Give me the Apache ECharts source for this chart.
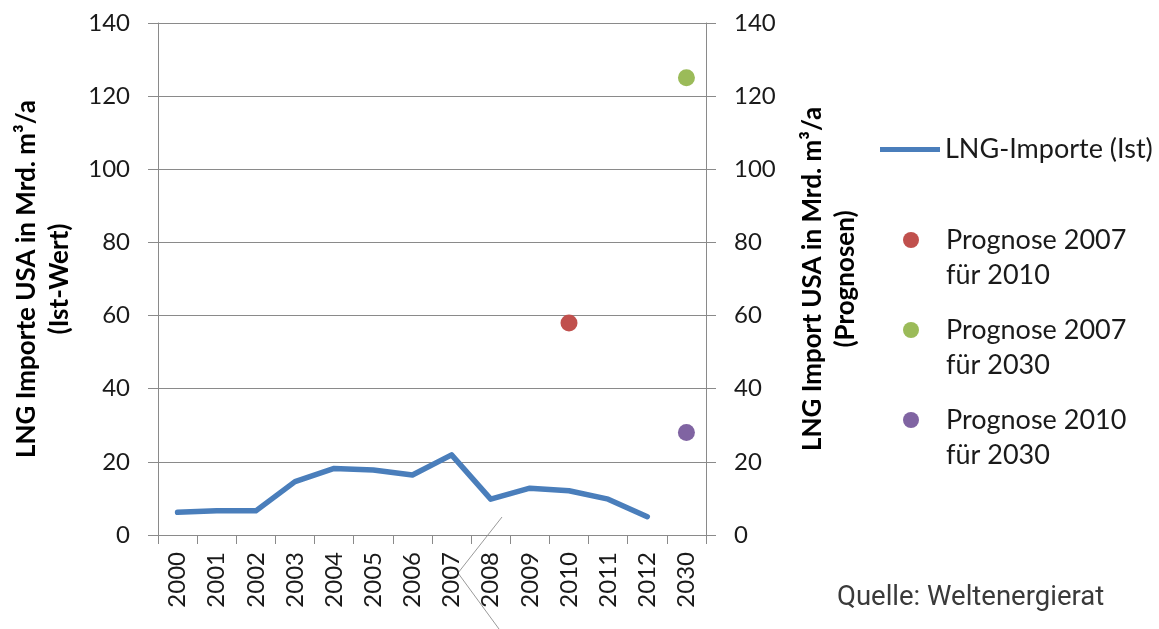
<!DOCTYPE html>
<html>
<head>
<meta charset="utf-8">
<script src="https://cdn.jsdelivr.net/npm/echarts@6/dist/echarts.min.js"></script>
<style>
  html, body { margin: 0; padding: 0; background: #fff; }
  #chart { width: 1159px; height: 629px; }
</style>
</head>
<body>
<div id="chart"></div>
<script>
// Years on the category axis (2030 is the forecast year)
const years = ['2000', '2001', '2002', '2003', '2004', '2005', '2006',
               '2007', '2008', '2009', '2010', '2011', '2012', '2030'];

// Actual US LNG imports, bn m³ per year (no actual value for 2030)
const importsActual = [6.2, 6.6, 6.6, 14.6, 18.2, 17.8, 16.4,
                       21.9, 9.8, 12.8, 12.1, 9.8, 5.0, null];

// Forecasts: [year, value]
const forecast2007for2010 = [['2010', 58]];
const forecast2007for2030 = [['2030', 125]];
const forecast2010for2030 = [['2030', 28]];

// Value axis ticks
const yMin = 0, yMax = 140, yStep = 20;

const FONT = 'Lato, "Open Sans", sans-serif';
const TEXT = '#1a1a1a';
const AXIS = '#8a8a8a';

const names = {
  actual: 'LNG-Importe (Ist)',
  f0710: 'Prognose 2007 für 2010',
  f0730: 'Prognose 2007 für 2030',
  f1030: 'Prognose 2010 für 2030'
};

function valueAxis(side, title) {
  return {
    type: 'value',
    position: side,
    min: yMin, max: yMax, interval: yStep,
    name: title,
    nameLocation: 'middle',
    nameRotate: 90,
    nameGap: side === 'left' ? 82 : 90,
    nameTextStyle: { fontFamily: FONT, fontSize: 26, fontWeight: 'bold', color: '#000', lineHeight: 33 },
    axisLine: { show: true, lineStyle: { color: AXIS, width: 1 } },
    axisTick: { show: true, length: 10, lineStyle: { color: AXIS } },
    axisLabel: { margin: 28, fontFamily: FONT, fontSize: 24, color: TEXT },
    splitLine: { show: side === 'left', lineStyle: { color: AXIS, width: 1 } }
  };
}

function legendBlock(name, left, top, opts) {
  return Object.assign({
    data: [name],
    orient: 'vertical',
    left: left,
    top: top,
    padding: 0,
    itemWidth: 60,
    itemHeight: 16,
    itemGap: 0,
    selectedMode: false,
    textStyle: { fontFamily: FONT, fontSize: 27, color: TEXT, lineHeight: 35 },
    formatter: function (n) {
      if (n === names.actual) return n;
      const i = n.indexOf(' für ');
      // leading blank line keeps the marker level with the first text line
      return '\n' + n.slice(0, i) + '\n' + n.slice(i + 1);
    }
  }, opts || {});
}

function forecastSeries(name, data, color) {
  return {
    name: name, type: 'scatter', yAxisIndex: 1,
    data: data, symbolSize: 17,
    itemStyle: { color: color, opacity: 1 }
  };
}

const chart = echarts.init(document.getElementById('chart'), null, { renderer: 'canvas' });

chart.setOption({
  animation: false,
  backgroundColor: '#fff',
  grid: { left: 158, right: 453, top: 23, bottom: 94, containLabel: false },
  xAxis: {
    type: 'category',
    data: years,
    boundaryGap: true,
    axisLine: { show: true, lineStyle: { color: AXIS, width: 1 } },
    axisTick: { show: true, interval: 0, length: 9, alignWithLabel: false, lineStyle: { color: AXIS } },
    axisLabel: { interval: 0, rotate: 90, margin: 17, fontFamily: FONT, fontSize: 24, color: TEXT },
    splitLine: { show: false }
  },
  yAxis: [
    valueAxis('left', 'LNG Importe USA in Mrd. m³/a\n(Ist-Wert)'),
    valueAxis('right', 'LNG Import USA in Mrd. m³/a\n(Prognosen)')
  ],
  legend: [
    legendBlock(names.actual, 880, 132, { itemHeight: 5, data: [{ name: names.actual, icon: 'rect' }] }),
    legendBlock(names.f0710, 903, 187.5, { data: [{ name: names.f0710, icon: 'circle' }] }),
    legendBlock(names.f0730, 903, 277.5, { data: [{ name: names.f0730, icon: 'circle' }] }),
    legendBlock(names.f1030, 903, 367.5, { data: [{ name: names.f1030, icon: 'circle' }] })
  ],
  series: [
    {
      name: names.actual,
      type: 'line',
      yAxisIndex: 0,
      data: importsActual,
      showSymbol: false,
      symbol: 'none',
      lineStyle: { color: '#4a7ebb', width: 5.5, join: 'round', cap: 'round' },
      itemStyle: { color: '#4a7ebb' }
    },
    forecastSeries(names.f0710, forecast2007for2010, '#c0504d'),
    forecastSeries(names.f0730, forecast2007for2030, '#9bbb59'),
    forecastSeries(names.f1030, forecast2010for2030, '#8064a2')
  ],
  graphic: [
    {
      type: 'polyline',
      shape: { points: [[502, 517], [458, 573], [499, 629]] },
      style: { stroke: '#9a9a9a', lineWidth: 1, fill: null },
      silent: true
    },
    {
      type: 'text',
      left: 837,
      top: 584,
      style: { text: 'Quelle: Weltenergierat', fontFamily: 'Roboto, sans-serif', fontSize: 27.5, fill: '#3a3a3a' },
      silent: true
    }
  ]
});
</script>
</body>
</html>
